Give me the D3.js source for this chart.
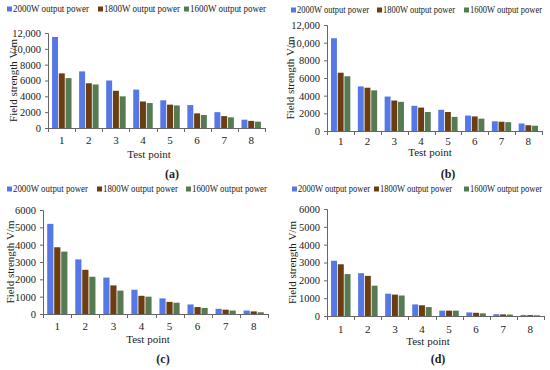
<!DOCTYPE html>
<html>
<head>
<meta charset="utf-8">
<script src="https://cdn.jsdelivr.net/npm/d3@7"></script>
<style>
  body { margin: 0; background: #fff; }
  svg text { font-family: "Liberation Serif", "Times New Roman", serif; fill: #222; }
</style>
</head>
<body>
<svg width="550" height="370"></svg>
<script>
// chart data
var testPoints = ["1", "2", "3", "4", "5", "6", "7", "8"];
var seriesNames = ["2000W output power", "1800W output power", "1600W output power"];
var colors = ["#5578e6", "#6b3d10", "#567a52"];

var a2000 = [11500, 7150, 6000, 4850, 3500, 2900, 2000, 1050];
var a1800 = [6900, 5650, 4700, 3350, 2950, 1850, 1500, 900];
var a1600 = [6300, 5500, 4000, 3150, 2850, 1650, 1350, 800];

var b2000 = [10500, 5050, 3900, 2850, 2400, 1750, 1100, 850];
var b1800 = [6600, 4900, 3450, 2650, 2150, 1650, 1050, 650];
var b1600 = [6200, 4600, 3300, 2150, 1600, 1400, 1000, 600];

var c2000 = [5200, 3150, 2100, 1400, 900, 550, 300, 200];
var c1800 = [3850, 2550, 1650, 1050, 700, 400, 250, 150];
var c1600 = [3600, 2150, 1350, 1000, 650, 350, 200, 100];

var d2000 = [3100, 2400, 1250, 650, 300, 200, 100, 60];
var d1800 = [2900, 2250, 1200, 600, 300, 180, 90, 50];
var d1600 = [2350, 1700, 1150, 500, 300, 150, 80, 40];

var ticks12k = [0, 2000, 4000, 6000, 8000, 10000, 12000];
var ticks6k = [0, 1000, 2000, 3000, 4000, 5000, 6000];

var svg = d3.select("svg");

var panels = [
  { label: "(a)", series: [a2000, a1800, a1600], ticks: ticks12k, max: 12000,
    x0: 48, x1: 265, yTop: 33, yBot: 128, legY: 9, legX: [7, 98, 184], legW: 76,
    titleX: 13, tickY: 140, xTitleX: 149, xTitleY: 154, capX: 172, capY: 174 },
  { label: "(b)", series: [b2000, b1800, b1600], ticks: ticks12k, max: 12000,
    x0: 327, x1: 542, yTop: 25, yBot: 131, legY: 10, legX: [291, 377, 464], legW: 72,
    titleX: 290, tickY: 141, xTitleX: 430, xTitleY: 152, capX: 448, capY: 174 },
  { label: "(c)", series: [c2000, c1800, c1600], ticks: ticks6k, max: 6000,
    x0: 43, x1: 268, yTop: 210, yBot: 314, legY: 189, legX: [7, 97, 186], legW: 75,
    titleX: 10, tickY: 326, xTitleX: 148, xTitleY: 339, capX: 163, capY: 359 },
  { label: "(d)", series: [d2000, d1800, d1600], ticks: ticks6k, max: 6000,
    x0: 327, x1: 544, yTop: 209, yBot: 316, legY: 189, legX: [292, 374, 464], legW: 72,
    titleX: 292, tickY: 329, xTitleX: 428, xTitleY: 341, capX: 438, capY: 359 }
];

panels.forEach(drawPanel);

function drawPanel(p) {
  var g = svg.append("g");

  var x = d3.scaleBand().domain(testPoints).range([p.x0, p.x1]).paddingInner(0.28).paddingOuter(0.15);
  var xs = d3.scaleBand().domain([0, 1, 2]).range([0, x.bandwidth()]).paddingInner(0.12);
  var y = d3.scaleLinear().domain([0, p.max]).range([p.yBot, p.yTop]);

  // bars
  p.series.forEach(function (vals, si) {
    g.selectAll(null)
      .data(vals)
      .enter().append("rect")
      .attr("x", function (d, i) { return x(testPoints[i]) + xs(si); })
      .attr("y", function (d) { return y(d); })
      .attr("width", xs.bandwidth())
      .attr("height", function (d) { return p.yBot - y(d); })
      .attr("fill", colors[si]);
  });

  // y axis
  var yAxis = d3.axisLeft(y).tickValues(p.ticks).tickSize(3).tickPadding(4)
    .tickFormat(function (d) { return d >= 10000 ? d3.format(",")(d) : d; });
  var ya = g.append("g").attr("transform", "translate(" + p.x0 + ",0)").call(yAxis);
  ya.select(".domain").attr("stroke", "#666");
  ya.selectAll(".tick line").attr("stroke", "#666");
  ya.selectAll("text").style("font-size", "10.5px").attr("fill", "#222");

  // x axis line with ticks between groups
  g.append("line")
    .attr("x1", p.x0).attr("x2", p.x1)
    .attr("y1", p.yBot + 0.5).attr("y2", p.yBot + 0.5)
    .attr("stroke", "#666");
  d3.range(testPoints.length + 1).forEach(function (i) {
    var tx = Math.round(p.x0 + (p.x1 - p.x0) * i / testPoints.length) + 0.5;
    g.append("line")
      .attr("x1", tx).attr("x2", tx)
      .attr("y1", p.yBot).attr("y2", p.yBot + 4)
      .attr("stroke", "#666");
  });
  g.selectAll(null)
    .data(testPoints)
    .enter().append("text")
    .attr("x", function (d) { return x(d) + x.bandwidth() / 2; })
    .attr("y", p.tickY)
    .attr("dy", "0.35em")
    .attr("text-anchor", "middle")
    .style("font-size", "11px")
    .text(function (d) { return d; });

  // axis titles
  g.append("text")
    .attr("x", p.xTitleX)
    .attr("y", p.xTitleY)
    .attr("dy", "0.35em")
    .attr("text-anchor", "middle")
    .style("font-size", "11px")
    .text("Test point");

  g.append("text")
    .attr("transform", "translate(" + p.titleX + "," + ((p.yTop + p.yBot) / 2) + ") rotate(-90)")
    .attr("dy", "0.35em")
    .attr("text-anchor", "middle")
    .style("font-size", "11px")
    .text("Field strength V/m");

  // legend
  seriesNames.forEach(function (name, i) {
    g.append("rect")
      .attr("x", p.legX[i]).attr("y", p.legY - 2.5)
      .attr("width", 5).attr("height", 5)
      .attr("fill", colors[i]);
    g.append("text")
      .attr("x", p.legX[i] + 6)
      .attr("y", p.legY)
      .attr("dy", "0.35em")
      .attr("textLength", p.legW)
      .attr("lengthAdjust", "spacingAndGlyphs")
      .style("font-size", "9.5px")
      .text(name);
  });

  // caption
  g.append("text")
    .attr("x", p.capX)
    .attr("y", p.capY)
    .attr("dy", "0.35em")
    .attr("text-anchor", "middle")
    .style("font-size", "12px")
    .style("font-weight", "bold")
    .text(p.label);
}
</script>
</body>
</html>
